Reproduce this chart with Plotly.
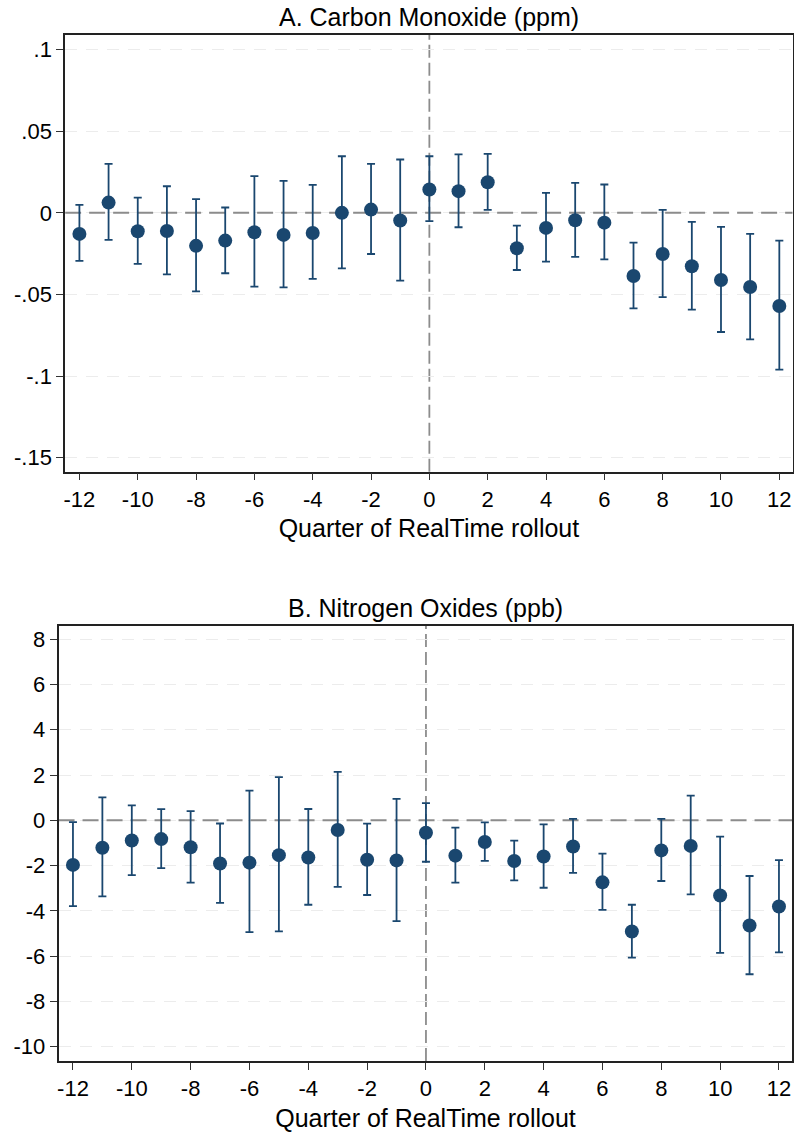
import plotly.graph_objects as go

# event-time quarters
quarters = list(range(-12, 13))

# A. Carbon Monoxide (ppm)
co_coef = [-0.0129, 0.0063, -0.0113, -0.0111, -0.0202, -0.0170, -0.0119, -0.0135, -0.0123,
           0.0000, 0.0020, -0.0047, 0.0143, 0.0133, 0.0188, -0.0217, -0.0092, -0.0045,
           -0.0060, -0.0387, -0.0252, -0.0327, -0.0411, -0.0454, -0.0571]
co_hi = [0.0049, 0.0300, 0.0094, 0.0163, 0.0084, 0.0033, 0.0225, 0.0196, 0.0172,
         0.0347, 0.0300, 0.0327, 0.0347, 0.0358, 0.0362, -0.0078, 0.0123, 0.0184,
         0.0174, -0.0182, 0.0018, -0.0055, -0.0086, -0.0129, -0.0170]
co_lo = [-0.0294, -0.0166, -0.0313, -0.0377, -0.0481, -0.0370, -0.0452, -0.0456, -0.0405,
         -0.0340, -0.0252, -0.0415, -0.0051, -0.0088, 0.0018, -0.0350, -0.0299, -0.0270,
         -0.0285, -0.0585, -0.0516, -0.0593, -0.0730, -0.0775, -0.0961]
co_ticks = [0.1, 0.05, 0, -0.05, -0.1, -0.15]
co_ticktext = [".1", ".05", "0", "-.05", "-.1", "-.15"]

# B. Nitrogen Oxides (ppb)
nox_coef = [-1.97, -1.21, -0.89, -0.83, -1.19, -1.91, -1.87, -1.54, -1.64, -0.43, -1.74, -1.77,
            -0.55, -1.56, -0.96, -1.80, -1.60, -1.16, -2.74, -4.91, -1.33, -1.13, -3.32, -4.65, -3.81]
nox_hi = [-0.08, 1.01, 0.66, 0.49, 0.41, -0.14, 1.31, 1.91, 0.50, 2.14, -0.15, 0.95,
          0.76, -0.32, -0.09, -0.90, -0.18, 0.06, -1.47, -3.73, 0.06, 1.09, -0.72, -2.46, -1.76]
nox_lo = [-3.79, -3.36, -2.42, -2.11, -2.75, -3.65, -4.94, -4.91, -3.73, -2.94, -3.30, -4.45,
          -1.83, -2.75, -1.79, -2.65, -2.98, -2.32, -3.96, -6.07, -2.68, -3.27, -5.86, -6.80, -5.83]
nox_ticks = [8, 6, 4, 2, 0, -2, -4, -6, -8, -10]
nox_ticktext = ["8", "6", "4", "2", "0", "-2", "-4", "-6", "-8", "-10"]

x_ticks = list(range(-12, 13, 2))
x_ticktext = ["-12", "-10", "-8", "-6", "-4", "-2", "0", "2", "4", "6", "8", "10", "12"]
x_range = [-12.49, 12.46]

navy = "#1a476f"
refgray = "#8c8c8c"
font = "Liberation Sans, Arial, Helvetica, sans-serif"

fig = go.Figure()


def add_panel(coef, hi, lo, xa, ya):
    # horizontal zero line as a trace so it sits above the grid but under the markers
    fig.add_trace(go.Scatter(
        x=x_range, y=[0, 0], mode="lines", xaxis=xa, yaxis=ya,
        line=dict(color=refgray, width=2, dash="16px,8px"),
        hoverinfo="skip", showlegend=False))
    fig.add_trace(go.Scatter(
        x=quarters, y=coef, mode="markers", xaxis=xa, yaxis=ya,
        marker=dict(color=navy, size=14),
        error_y=dict(type="data", symmetric=False,
                     array=[h - c for h, c in zip(hi, coef)],
                     arrayminus=[c - l for c, l in zip(coef, lo)],
                     color=navy, thickness=1.8, width=4),
        showlegend=False, cliponaxis=False))


add_panel(co_coef, co_hi, co_lo, "x", "y")
add_panel(nox_coef, nox_hi, nox_lo, "x2", "y2")

axis_common = dict(showline=True, linecolor="#222222", linewidth=1.6, mirror=True,
                   ticks="outside", ticklen=7, tickwidth=1.2, tickcolor="#333333",
                   tickfont=dict(size=22, color="black", family=font), zeroline=False)
grid = dict(showgrid=True, gridcolor="#ececec", griddash="12px,9px", gridwidth=1.3)
x_title = dict(text="Quarter of RealTime rollout", font=dict(size=25), standoff=9)

fig.update_layout(
    width=794, height=1133,
    margin=dict(l=0, r=0, t=0, b=0),
    paper_bgcolor="white", plot_bgcolor="white",
    font=dict(family=font, color="black"),
    xaxis=dict(domain=[0.0797, 0.9984], anchor="y", range=x_range,
               tickvals=x_ticks, ticktext=x_ticktext, showgrid=False,
               title=x_title, **axis_common),
    yaxis=dict(domain=[0.5837, 0.9691], anchor="x", range=[-0.1586, 0.109],
               tickvals=co_ticks, ticktext=co_ticktext, **grid, **axis_common),
    xaxis2=dict(domain=[0.0714, 0.9981], anchor="y2", range=x_range,
                tickvals=x_ticks, ticktext=x_ticktext, showgrid=False,
                title=x_title, **axis_common),
    yaxis2=dict(domain=[0.0636, 0.4478], anchor="x2", range=[-10.63, 8.6],
                tickvals=nox_ticks, ticktext=nox_ticktext, **grid, **axis_common),
)

# vertical line at the rollout quarter
for xa, ya in (("x", "y"), ("x2", "y2")):
    fig.add_shape(type="line", xref=xa, yref=ya + " domain", x0=0, x1=0, y0=0, y1=1,
                  line=dict(color=refgray, width=1.8, dash="13px,5px"), layer="below")

# panel titles
fig.add_annotation(text="A. Carbon Monoxide (ppm)", xref="x domain", yref="paper",
                   x=0.5, y=1 - 17 / 1133, showarrow=False, yanchor="middle",
                   font=dict(size=25, color="black"))
fig.add_annotation(text="B. Nitrogen Oxides (ppb)", xref="x2 domain", yref="paper",
                   x=0.5, y=1 - 608 / 1133, showarrow=False, yanchor="middle",
                   font=dict(size=25, color="black"))

fig.write_html("out.html", config={"displayModeBar": False},
               post_script="document.body.style.margin='0';")
